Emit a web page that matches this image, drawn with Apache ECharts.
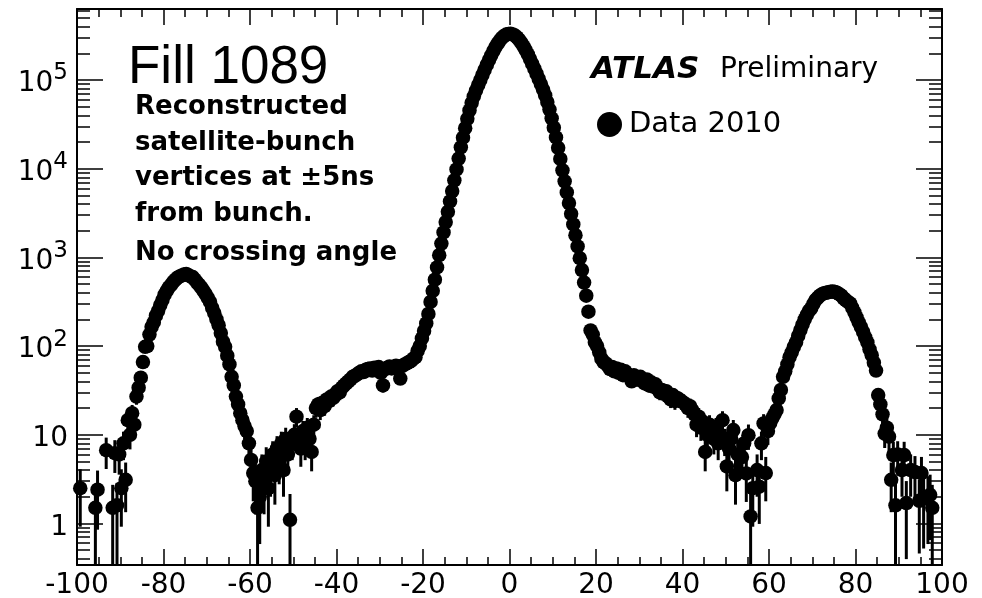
<!DOCTYPE html>
<html><head><meta charset="utf-8">
<script src="https://cdn.jsdelivr.net/npm/echarts@6/dist/echarts.min.js"></script>
<style>html,body{margin:0;padding:0;background:#fff}#c{width:982px;height:598px}</style>
</head><body><div id="c"></div>
<script>
// ---- data: counts per 0.5-wide bin (0 = empty bin, not drawn) ----
const binWidth = 0.5;
const regionStarts = [-100, -90, -58, -22, 22, 60, 90];

const farLeft = [0, 2.5, 0, 0, 0, 0, 0, 0, 1.5, 2.4, 0, 0, 0, 6.7, 0, 0, 1.5, 6.2, 1.6, 6];

const leftSatellite = [2.5, 8, 3.1, 14.6, 10, 17.5, 13, 27, 34, 44,
  66, 98, 100, 135, 165, 185, 220, 250, 290, 330,
  380, 420, 460, 490, 530, 560, 590, 610, 625, 640,
  650, 630, 610, 600, 560, 520, 490, 455, 420, 385,
  350, 315, 270, 235, 200, 172, 140, 112, 98, 78,
  62, 45, 36, 27, 22, 17.5, 14.6, 12.5, 11, 8,
  5.2, 3.7, 3, 1.5];

const leftShoulder = [2, 4, 3, 5, 2.5, 4, 6, 3.5, 7, 5,
  8, 4, 9, 6, 1.1, 8, 10, 16, 9, 7,
  11, 8, 12, 9, 6.4, 13, 20, 22, 19, 23,
  21, 25, 24, 27, 26, 29, 31, 30, 34, 36,
  38, 40, 42, 45, 46, 48, 50, 52, 51, 54,
  55, 56, 53, 57, 55, 58, 50, 36, 55, 57,
  59, 56, 58, 60, 55, 43, 60, 62, 64, 66,
  68, 72];

const core = [75, 88, 100, 122, 148, 180, 230, 315, 420, 560,
  770, 1060, 1430, 1910, 2500, 3260, 4280, 5600, 7400, 9800,
  13000, 17400, 22400, 28600, 36500, 45400, 55300, 65500, 76000, 87500,
  100000, 114500, 130500, 148000, 167500, 188500, 211500, 235000, 257000, 278500,
  298000, 314000, 325000, 331000,
  332000, 327000, 317000, 302000, 283000, 262000, 240000, 217000, 194000, 172000,
  152000, 134000, 118000, 103000, 90000, 78000, 67000, 56500, 46500, 37000,
  29000, 22500, 17200, 12900, 9600, 7200, 5400, 4100, 3100, 2350,
  1780, 1330, 980, 720, 520, 370, 244, 150, 135, 110,
  100, 85, 72, 66];

const rightShoulder = [64, 60, 55, 58, 52, 56, 50, 54, 47, 52,
  48, 45, 40, 47, 44, 42, 45, 40, 38, 42,
  36, 39, 35, 37, 33, 30, 32, 29, 31, 27,
  25, 28, 24, 26, 25, 24, 23, 22, 20, 21,
  19, 17, 13, 16, 12, 14, 6.4, 10, 13, 11.3,
  9, 12, 8, 10, 14.6, 8.7, 4.4, 7, 9, 11.3,
  3.5, 6, 5.9, 5.6, 8, 3.66, 9.9, 1.2, 2.5, 0,
  4, 2.6, 8, 13.4, 3.7, 11];

const rightSatellite = [13.4, 15.3, 17, 19, 25.7, 32, 45, 52, 62, 75,
  85, 98, 110, 130, 151, 175, 200, 225, 250, 266,
  300, 330, 350, 370, 385, 395, 400, 405, 410, 412,
  408, 398, 385, 370, 346, 330, 315, 303, 270, 240,
  210, 185, 165, 145, 125, 110, 92, 79, 65, 53,
  28, 22, 17, 10.3, 12, 9.5, 3.1, 5.9, 1.6, 6];

const farRight = [0, 4, 5.9, 1.7, 0, 4, 0, 3.8, 0, 1.8,
  3.7, 1.9, 0, 2, 2.1, 1.5, 0, 0, 0, 0];

const regions = [farLeft, leftSatellite, leftShoulder, core, rightShoulder, rightSatellite, farRight];

const xMin = -100, xMax = 100, xInterval = 20;
const yMin = 0.34, yMax = 632000;
const seriesName = 'Data 2010';

// ---- build points and Poisson error bars ----
const points = [], bars = [];
regions.forEach((vals, r) => {
  vals.forEach((v, j) => {
    if (!v) return;
    const x = regionStarts[r] + binWidth * (j + 0.5);
    points.push([x, v]);
    const e = Math.sqrt(v);
    bars.push([x, Math.max(v - e, yMin), Math.min(v + e, yMax)]);
  });
});

const black = '#000';
const labelFont = 'DejaVu Sans';

function xAxisCfg(pos, showLabel) {
  return {
    type: 'value', min: xMin, max: xMax, interval: xInterval, position: pos,
    axisLine: { show: true, onZero: false, lineStyle: { color: black, width: 2 } },
    axisTick: { show: true, inside: true, length: 16, lineStyle: { color: black, width: 1.5 } },
    minorTick: { show: true, splitNumber: 4, length: 8, lineStyle: { color: black, width: 1.5 } },
    splitLine: { show: false }, minorSplitLine: { show: false },
    axisLabel: { show: showLabel, margin: 7, color: black, fontFamily: labelFont, fontSize: 28 }
  };
}
function yAxisCfg(pos, showLabel) {
  return {
    type: 'log', logBase: 10, min: yMin, max: yMax, position: pos,
    axisLine: { show: true, onZero: false, lineStyle: { color: black, width: 2 } },
    axisTick: { show: true, inside: true, length: 26, lineStyle: { color: black, width: 1.5 } },
    minorTick: { show: true, splitNumber: 9, length: 13, lineStyle: { color: black, width: 1.5 } },
    splitLine: { show: false }, minorSplitLine: { show: false },
    axisLabel: {
      show: showLabel, margin: 9, showMinLabel: false, showMaxLabel: false,
      formatter: function (v) {
        const k = Math.round(Math.log10(v));
        const p = Math.pow(10, k);
        if (Math.abs(v - p) > 1e-6 * p) return '';
        if (k === 0) return '{b|1}';
        if (k === 1) return '{b|10}';
        return '{b|10}{s|' + k + '}';
      },
      rich: {
        b: { fontFamily: labelFont, fontSize: 28, lineHeight: 28, color: black, padding: [8, 0, 0, 0] },
        s: { fontFamily: labelFont, fontSize: 23, lineHeight: 23, color: black, padding: [0, 0, 13, 0] }
      }
    }
  };
}

const chart = echarts.init(document.getElementById('c'), null, { renderer: 'canvas' });
chart.setOption({
  animation: false,
  backgroundColor: '#fff',
  grid: { left: 77, right: 40, top: 9, bottom: 33, containLabel: false, outerBoundsMode: 'none' },
  xAxis: [xAxisCfg('bottom', true), xAxisCfg('top', false)],
  yAxis: [yAxisCfg('left', true), yAxisCfg('right', false)],
  legend: {
    data: [seriesName], left: 597, top: 110, padding: 0, icon: 'circle',
    itemWidth: 25, itemHeight: 25, selectedMode: false,
    textStyle: { fontFamily: labelFont, fontSize: 29, color: black, padding: [0, 0, 0, 2] }
  },
  graphic: [
    { type: 'text', x: 128, y: 68.5, style: { text: 'Fill 1089', fontFamily: 'Liberation Sans', fontSize: 53, fill: black, align: 'left', verticalAlign: 'middle' } },
    { type: 'text', x: 591, y: 69.5, style: { text: 'ATLAS', fontFamily: 'DejaVu Sans', fontWeight: 'bold', fontStyle: 'italic', fontSize: 31, fill: black, align: 'left', verticalAlign: 'middle' } },
    { type: 'text', x: 720, y: 69.5, style: { text: 'Preliminary', fontFamily: 'DejaVu Sans', fontSize: 28, fill: black, align: 'left', verticalAlign: 'middle' } },
    { type: 'text', x: 135, y: 107.5, style: { text: 'Reconstructed', fontFamily: 'DejaVu Sans', fontWeight: 'bold', fontSize: 26, fill: black, align: 'left', verticalAlign: 'middle' } },
    { type: 'text', x: 135, y: 143, style: { text: 'satellite-bunch', fontFamily: 'DejaVu Sans', fontWeight: 'bold', fontSize: 26, fill: black, align: 'left', verticalAlign: 'middle' } },
    { type: 'text', x: 135, y: 178.5, style: { text: 'vertices at \u00b15ns', fontFamily: 'DejaVu Sans', fontWeight: 'bold', fontSize: 26, fill: black, align: 'left', verticalAlign: 'middle' } },
    { type: 'text', x: 135, y: 214, style: { text: 'from bunch.', fontFamily: 'DejaVu Sans', fontWeight: 'bold', fontSize: 26, fill: black, align: 'left', verticalAlign: 'middle' } },
    { type: 'text', x: 135, y: 253, style: { text: 'No crossing angle', fontFamily: 'DejaVu Sans', fontWeight: 'bold', fontSize: 26, fill: black, align: 'left', verticalAlign: 'middle' } }
  ],
  series: [
    {
      name: 'errors', type: 'custom', xAxisIndex: 0, yAxisIndex: 0, silent: true, z: 2,
      data: bars,
      encode: { x: 0, y: [1, 2] },
      renderItem: function (params, api) {
        const x = api.value(0);
        const p0 = api.coord([x, api.value(1)]);
        const p1 = api.coord([x, api.value(2)]);
        return { type: 'line', shape: { x1: p0[0], y1: p0[1], x2: p1[0], y2: p1[1] },
          style: { stroke: black, lineWidth: 3 } };
      }
    },
    {
      name: seriesName, type: 'scatter', xAxisIndex: 0, yAxisIndex: 0, z: 3,
      symbol: 'circle', symbolSize: 14.5, data: points,
      itemStyle: { color: black, opacity: 1 }
    }
  ]
});
</script></body></html>
